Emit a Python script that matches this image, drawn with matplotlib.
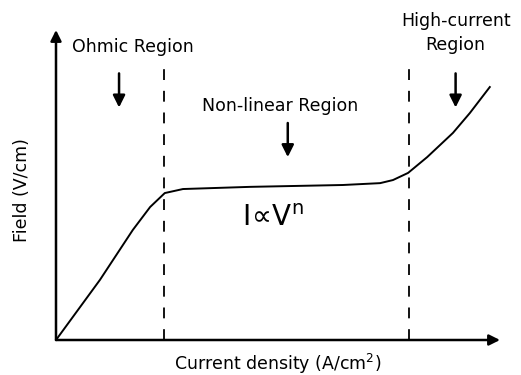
import matplotlib
matplotlib.use("Agg")
import matplotlib.pyplot as plt

# Field vs current density: ohmic, non-linear and high-current regions
current = [0.0, 0.99, 1.73, 2.12, 2.45, 2.86, 4.37, 6.46, 7.30, 7.59, 7.93, 8.36, 8.94, 9.32, 9.77]
field = [0.0, 1.94, 3.55, 4.29, 4.74, 4.87, 4.94, 5.00, 5.06, 5.16, 5.39, 5.90, 6.68, 7.32, 8.16]

# region boundaries (current density)
boundaries = [2.43, 7.96]

region_labels = ["Ohmic Region", "Non-linear Region", "High-current\nRegion"]
label_pos = [(0.35, 9.45), (5.05, 7.55), (9.0, 9.9)]
arrow_x = [1.42, 5.22, 9.0]

fig = plt.figure(figsize=(5.21, 3.75), dpi=100)
ax = fig.add_axes([56 / 521, 35 / 375, 444 / 521, 310 / 375])
ax.set_xlim(0, 10)
ax.set_ylim(0, 10)
ax.axis("off")

# axes with arrow heads
ax.annotate("", xy=(0, 10), xytext=(0, 0),
            arrowprops=dict(arrowstyle="-|>", lw=1.8, color="black",
                            mutation_scale=16, shrinkA=0, shrinkB=0))
ax.annotate("", xy=(10, 0), xytext=(0, 0),
            arrowprops=dict(arrowstyle="-|>", lw=1.8, color="black",
                            mutation_scale=16, shrinkA=0, shrinkB=0))

ax.plot(current, field, color="black", lw=1.4)

for b in boundaries:
    ax.plot([b, b], [0, 9.05], color="black", lw=1.3, linestyle=(0, (6, 6)))

fs = 12.5
ax.text(label_pos[0][0], label_pos[0][1], region_labels[0], fontsize=fs, ha="left", va="center")
ax.text(label_pos[1][0], label_pos[1][1], region_labels[1], fontsize=fs, ha="center", va="center")
ax.text(label_pos[2][0], label_pos[2][1], region_labels[2], fontsize=fs, ha="center", va="center",
        linespacing=1.45)

arrow_tops = [8.6, 7.0, 8.6]
for x, top in zip(arrow_x, arrow_tops):
    ax.annotate("", xy=(x, top - 1.1), xytext=(x, top),
                arrowprops=dict(arrowstyle="-|>", lw=1.8, color="black",
                                mutation_scale=18, shrinkA=0, shrinkB=0))

ax.text(4.2, 3.95, r"$\mathregular{I\!\propto\! V^{n}}$", fontsize=20, ha="left", va="center")

fig.text(278 / 521, 11 / 375, r"Current density (A/cm$^{2}$)", fontsize=fs, ha="center", va="center")
fig.text(22 / 521, 185 / 375, "Field (V/cm)", fontsize=fs, ha="center", va="center", rotation=90)

fig.savefig("out.png", dpi=100, facecolor="white")
